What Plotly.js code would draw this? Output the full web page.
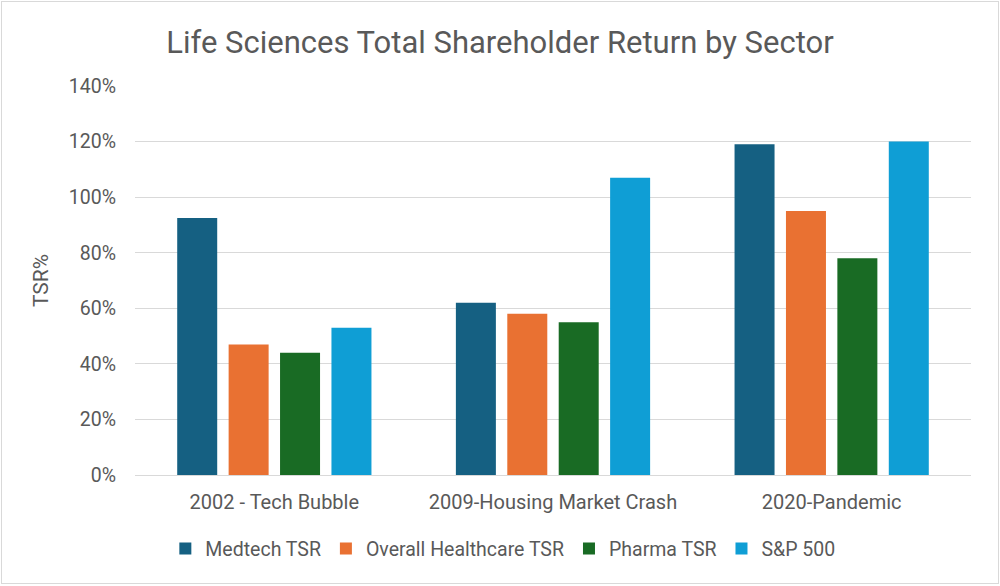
<!DOCTYPE html>
<html>
<head>
<meta charset="utf-8">
<script src="https://cdn.plot.ly/plotly-3.0.1.min.js"></script>
<style>
html,body{margin:0;padding:0;background:#fff;}
#frame{position:absolute;left:1px;top:1px;width:996px;height:581px;border:1px solid #d9d9d9;}
#chart{position:absolute;left:0;top:0;width:1000px;height:586px;}
</style>
</head>
<body>
<div id="frame"></div>
<div id="chart"></div>
<script>
const categories = ["2002 - Tech Bubble", "2009-Housing Market Crash", "2020-Pandemic"];
const medtech = [92.5, 62, 119];
const healthcare = [47, 58, 95];
const pharma = [44, 55, 78];
const sp500 = [53, 107, 120];
const seriesNames = ["Medtech TSR", "Overall Healthcare TSR", "Pharma TSR", "S&P 500"];
const seriesColors = ["#156082", "#E97132", "#196B24", "#0F9ED5"];
const seriesValues = [medtech, healthcare, pharma, sp500];

const font = "Roboto, 'Open Sans', sans-serif";
const traces = seriesValues.map((v, i) => ({
  type: "bar",
  x: categories,
  y: v,
  name: seriesNames[i],
  marker: {color: seriesColors[i]},
  hoverinfo: "skip"
}));

const layout = {
  width: 1000, height: 586,
  margin: {l: 135, r: 29, t: 86, b: 111},
  paper_bgcolor: "rgba(0,0,0,0)",
  plot_bgcolor: "rgba(0,0,0,0)",
  font: {family: font, color: "#595959", size: 18},
  title: {text: "Life Sciences Total Shareholder Return by Sector", x: 0.5, xanchor: "center", y: 0.928, yanchor: "middle", font: {size: 31, color: "#595959", family: font}},
  barmode: "group",
  bargap: 0.262,
  bargroupgap: 0.222,
  xaxis: {showline: true, linecolor: "#d9d9d9", linewidth: 1, tickfont: {size: 20, color: "#595959"}, ticks: "", ticklabelstandoff: 9, showgrid: false},
  yaxis: {range: [0, 140], dtick: 20, ticksuffix: "%", gridcolor: "#d9d9d9", gridwidth: 1, zeroline: false, tickfont: {size: 19.5, color: "#595959"}, ticklabelstandoff: 18,
    title: {text: "TSR%", font: {size: 21, color: "#595959"}, standoff: 14}},
  legend: {orientation: "h", x: 0.44, xanchor: "center", y: -0.19, yanchor: "middle", font: {size: 19.5, color: "#595959", family: font}, itemclick: false}
};
Plotly.newPlot("chart", traces, layout, {displayModeBar: false, staticPlot: true});
</script>
</body>
</html>
